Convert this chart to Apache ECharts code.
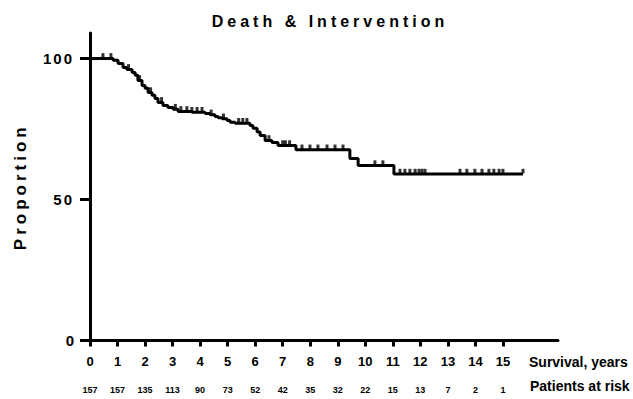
<!DOCTYPE html>
<html>
<head>
<meta charset="utf-8">
<script src="https://cdn.jsdelivr.net/npm/echarts@6/dist/echarts.min.js"></script>
<style>
html, body { margin: 0; padding: 0; background: #fff; }
#main { width: 633px; height: 399px; }
</style>
</head>
<body>
<div id="main"></div>
<script>
// tick years and patients at risk
var years = [0, 1, 2, 3, 4, 5, 6, 7, 8, 9, 10, 11, 12, 13, 14, 15];
var atRisk = [157, 157, 135, 113, 90, 73, 52, 42, 35, 32, 22, 15, 13, 7, 2, 1];
var yTicks = [0, 50, 100];

// Kaplan-Meier steps (time in years, proportion in %)
var kmTimes = [0, 0.84, 1.02, 1.2, 1.34, 1.53, 1.64, 1.74, 1.89, 2.0, 2.11, 2.25, 2.36, 2.47, 2.65, 2.83, 3.02, 3.2, 3.7,
  4.18, 4.36, 4.54, 4.65, 4.8, 4.98, 5.09, 5.27, 5.81, 5.92, 6.07, 6.18, 6.36, 6.61, 6.83, 7.48, 9.44, 9.74, 11.04, 15.73];
var kmValues = [100, 99.3, 98.2, 96.8, 96.1, 95.0, 94.0, 92.2, 90.4, 89.4, 87.9, 86.9, 85.8, 84.4, 83.3, 82.6, 82.0, 81.2, 80.9,
  80.5, 80.0, 79.4, 79.0, 78.6, 78.0, 77.4, 77.0, 76.2, 75.2, 73.9, 72.7, 70.9, 70.2, 69.1, 67.6, 64.5, 62.0, 59.0, 59.0];

// censored observations
var censorTimes = [0.47, 0.76, 1.4, 1.8, 2.2, 2.6, 3.1, 3.3, 3.52, 3.7, 3.89, 4.07, 4.4, 4.85, 5.4, 5.55, 5.7, 6.5, 7.0, 7.1, 7.25,
  7.7, 7.99, 8.28, 8.61, 8.9, 9.19, 10.35, 10.64,
  11.26, 11.44, 11.62, 11.81, 11.95, 12.06, 12.17, 13.44, 13.69, 13.98, 14.24, 14.49, 14.67, 14.86, 15.0, 15.73];

var FONT = "'Liberation Sans', Arial, sans-serif";

var survivalAt = function(t) {
	var v = kmValues[0];
	for (var i = 0; i < kmTimes.length; i++) {
		if (kmTimes[i] <= t) v = kmValues[i];
	}
	return v;
};

var kmData = [];
for (var i = 0; i < kmTimes.length; i++) {
	kmData.push([kmTimes[i], kmValues[i]]);
}
var censorData = [];
for (var j = 0; j < censorTimes.length; j++) {
	censorData.push([censorTimes[j], survivalAt(censorTimes[j])]);
}

var myChart = echarts.init(document.getElementById('main'), null, {renderer: 'svg'});

var option = {
	animation: false,
	backgroundColor: '#fff',
	grid: {left: 90, right: 75, top: 33, bottom: 58.5},
	graphic: [
		{type: 'text', style: {text: 'Death & Intervention', x: 330, y: 21, align: 'center', verticalAlign: 'middle',
			font: 'bold 16px ' + FONT, fill: '#000'}},
		{type: 'text', style: {text: 'Survival, years', x: 529, y: 362, align: 'left', verticalAlign: 'middle',
			font: 'bold 14px ' + FONT, fill: '#000'}},
		{type: 'text', style: {text: 'Patients at risk', x: 530, y: 386, align: 'left', verticalAlign: 'middle',
			font: 'bold 14px ' + FONT, fill: '#000'}}
	],
	xAxis: [
		{
			type: 'value', min: 0, max: 17,
			splitLine: {show: false},
			axisLine: {show: true, onZero: false, lineStyle: {color: '#000', width: 3}},
			axisTick: {show: true, length: 6, customValues: years, lineStyle: {color: '#000', width: 3}},
			axisLabel: {customValues: years, margin: 14, color: '#000', fontSize: 13, fontWeight: 'bold', fontFamily: FONT}
		},
		{
			type: 'value', min: 0, max: 17, position: 'bottom', offset: 41,
			splitLine: {show: false},
			axisLine: {show: false},
			axisTick: {show: false},
			axisLabel: {customValues: years, margin: 4, color: '#000', fontSize: 9, fontWeight: 'bold', fontFamily: FONT,
				formatter: function(v) { return atRisk[years.indexOf(v)]; }}
		}
	],
	yAxis: {
		type: 'value', min: 0, max: 109,
		name: 'Proportion', nameLocation: 'middle', nameRotate: 90, nameGap: 61,
		nameTextStyle: {color: '#000', fontSize: 17, fontWeight: 'bold', fontFamily: FONT},
		splitLine: {show: false},
		axisLine: {show: true, lineStyle: {color: '#000', width: 3}},
		axisTick: {show: true, length: 10, customValues: yTicks, lineStyle: {color: '#000', width: 3}},
		axisLabel: {customValues: yTicks, margin: 16, color: '#000', fontSize: 15, fontWeight: 'bold', fontFamily: FONT}
	},
	series: [
		{
			name: 'Death & Intervention', type: 'line', step: 'end',
			data: kmData, symbol: 'none',
			lineStyle: {color: '#000', width: 3}
		},
		{
			name: 'censored', type: 'scatter', data: censorData,
			symbol: 'rect', symbolSize: [3, 4.5], symbolOffset: [0, -3],
			itemStyle: {color: '#000'}
		}
	]
};
myChart.setOption(option);

// letter spacing on the spaced texts (svg renderer)
var spacing = {'Death & Intervention': '4px', 'Proportion': '4px', '100': '2px', '50': '2px'};
var applySpacing = function() {
	var texts = document.querySelectorAll('#main text');
	for (var k = 0; k < texts.length; k++) {
		var s = spacing[texts[k].textContent];
		if (s && texts[k].getAttribute('data-ls') !== '1') {
			texts[k].style.letterSpacing = s;
			texts[k].setAttribute('data-ls', '1');
		}
	}
};
myChart.on('finished', applySpacing);
applySpacing();
</script>
</body>
</html>
